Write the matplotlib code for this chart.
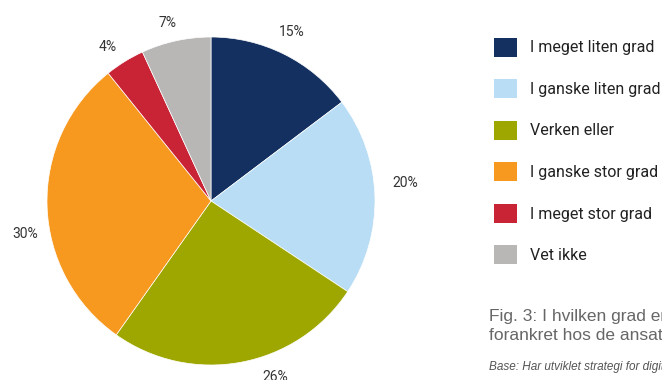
import numpy as np
import matplotlib.pyplot as plt
from matplotlib.patches import Patch

plt.rcParams['font.family'] = ['Roboto', 'DejaVu Sans']

categories = ["I meget liten grad", "I ganske liten grad", "Verken eller",
              "I ganske stor grad", "I meget stor grad", "Vet ikke"]
shares = [15, 20, 26, 30, 4, 7]
pct_labels = [f"{v}%" for v in shares]
colors = ["#143060", "#B9DDF5", "#9DA700", "#F7981F", "#C92336", "#B8B7B6"]

# label placement: radial distance (pie radii) and angular nudge (degrees)
label_dist = [1.14, 1.19, 1.14, 1.15, 1.13, 1.12]
label_nudge = [0.8, 3.5, 9.5, 8.4, 2.0, 1.4]

W, H = 662, 380
fig = plt.figure(figsize=(W / 100, H / 100), dpi=100)

# pie: centre (211, 201) px, radius 164 px
cx, cy, r = 211, 201, 164
ax = fig.add_axes([(cx - r) / W, (H - cy - r) / H, 2 * r / W, 2 * r / H])
wedges, texts = ax.pie(shares, labels=pct_labels, colors=colors, startangle=90,
                       counterclock=False, radius=1,
                       wedgeprops=dict(edgecolor="white", linewidth=0.5),
                       textprops=dict(fontsize=10, color="#333333"))
for w, t, d, nd in zip(wedges, texts, label_dist, label_nudge):
    mid = np.deg2rad((w.theta1 + w.theta2) / 2 + nd)
    t.set_position((d * np.cos(mid), d * np.sin(mid)))
    t.set_ha("center")
    t.set_va("center")
ax.set_xlim(-1, 1)
ax.set_ylim(-1, 1)
ax.set_aspect("equal")

handles = [Patch(facecolor=c, edgecolor="none") for c in colors]
fig.legend(handles, categories, loc="upper left",
           bbox_to_anchor=(494 / W, 1 - 37.5 / H), frameon=False,
           fontsize=11.5, handlelength=1.47, handleheight=1.47,
           handletextpad=0.77, labelspacing=1.4, borderpad=0,
           borderaxespad=0, labelcolor="#222222")

cap_font = ['Liberation Sans', 'DejaVu Sans']
fig.text(489 / W, 1 - 321 / H, "Fig. 3: I hvilken grad er strategien",
         fontsize=12.5, color="#666666", va="baseline", family=cap_font)
fig.text(489 / W, 1 - 340 / H, "forankret hos de ansatte?",
         fontsize=12.5, color="#666666", va="baseline", family=cap_font)
fig.text(489 / W, 1 - 370 / H, "Base: Har utviklet strategi for digitalisering",
         fontsize=8.5, color="#555555", style="italic", va="baseline",
         family=cap_font)

fig.savefig("out.png", dpi=100)
